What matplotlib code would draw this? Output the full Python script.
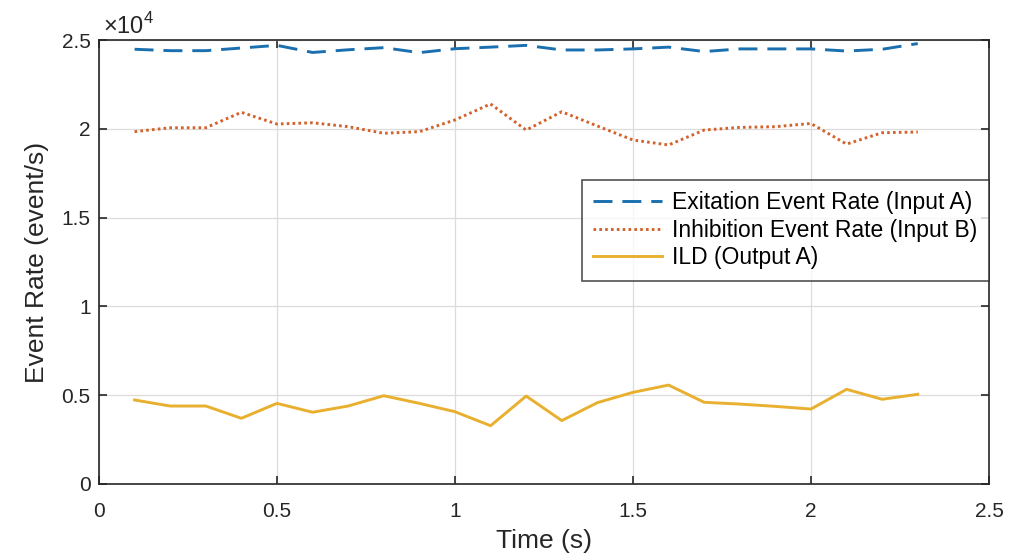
import numpy as np
import matplotlib
matplotlib.use("Agg")
import matplotlib.pyplot as plt
from matplotlib.ticker import FuncFormatter

plt.rcParams['font.family'] = ['Liberation Sans', 'DejaVu Sans']
plt.rcParams['mathtext.fontset'] = 'custom'
plt.rcParams['mathtext.rm'] = 'Liberation Sans'

# time points (s)
time_s = [0.1, 0.2, 0.3, 0.4, 0.5, 0.6, 0.7, 0.8, 0.9, 1.0, 1.1, 1.2,
          1.3, 1.4, 1.5, 1.6, 1.7, 1.8, 1.9, 2.0, 2.1, 2.2, 2.3]

# event rates (event/s)
excitation = [24480, 24400, 24400, 24550, 24700, 24300, 24450, 24570, 24290, 24510, 24600, 24700,
              24440, 24440, 24500, 24600, 24350, 24500, 24500, 24500, 24380, 24480, 24800]
inhibition = [19840, 20060, 20060, 20930, 20270, 20340, 20120, 19750, 19840, 20500, 21400, 19930,
              20960, 20160, 19370, 19090, 19930, 20080, 20120, 20300, 19140, 19780, 19820]
ild = [4730, 4390, 4390, 3700, 4540, 4040, 4390, 4970, 4540, 4070, 3280, 4950,
       3570, 4580, 5160, 5570, 4600, 4500, 4370, 4220, 5330, 4770, 5050]

labels = ['Exitation Event Rate (Input A)', 'Inhibition Event Rate (Input B)', 'ILD (Output A)']

#matlab default colors, a bit muted
c_blue = '#1a6fae'
c_orange = '#d2622b'
c_yellow = '#e8b02e'
axcol = '#262626'

fig = plt.figure(figsize=(10.14, 5.59), dpi=100)
ax = fig.add_axes([0.0976, 0.1342, 0.8777, 0.7942])

ax.plot(time_s, excitation, color=c_blue, lw=2.1, ls=(0, (6.5, 3.4)), label=labels[0])
ax.plot(time_s, inhibition, color=c_orange, lw=2.1, ls=(0, (0.9, 1.1)), label=labels[1])
ax.plot(time_s, ild, color=c_yellow, lw=2.1, label=labels[2])

ax.set_xlim(0, 2.5)
ax.set_ylim(0, 25000)
ax.set_xticks([0, 0.5, 1, 1.5, 2, 2.5])
ax.set_yticks([0, 5000, 10000, 15000, 20000, 25000])
ax.yaxis.set_major_formatter(FuncFormatter(lambda v, p: '%g' % (v / 1e4)))
ax.xaxis.set_major_formatter(FuncFormatter(lambda v, p: '%g' % v))

ax.grid(True, color='#dcdcdc', lw=0.9)
ax.set_axisbelow(True)
ax.tick_params(direction='in', length=6, width=1.2, colors=axcol, labelsize=15,
               top=True, right=True)
ax.tick_params(axis='x', pad=13)
ax.tick_params(axis='y', pad=6)
for s in ax.spines.values():
    s.set_color(axcol)
    s.set_linewidth(1.2)

ax.set_xlabel('Time (s)', fontsize=19, color=axcol, labelpad=6)
ax.set_ylabel('Event Rate (event/s)', fontsize=19, color=axcol, labelpad=9)
ax.text(0.004, 1.002, r'$\times10^{4}$', transform=ax.transAxes, fontsize=17,
        color=axcol, ha='left', va='bottom')

leg = ax.legend(loc='upper right', bbox_to_anchor=(1.0, 0.685), fontsize=16.5,
                frameon=True, fancybox=False, handlelength=3.0, borderaxespad=0,
                labelspacing=0.2, handletextpad=0.45, borderpad=0.5)
leg.get_frame().set_edgecolor(axcol)
leg.get_frame().set_linewidth(1.2)

plt.savefig('out.png', dpi=100)
